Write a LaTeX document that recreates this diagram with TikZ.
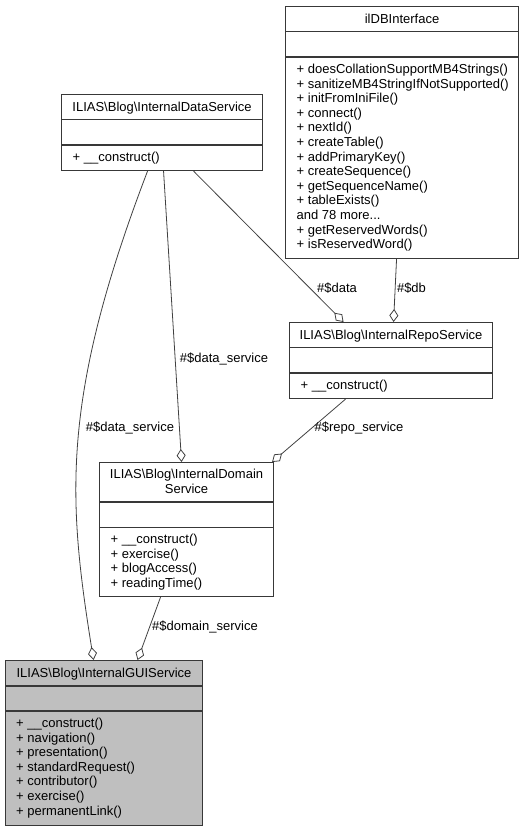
\documentclass[tikz,border=0pt]{standalone}
\usepackage{fontspec}
\setmainfont{Liberation Sans}
\usetikzlibrary{arrows.meta}

\definecolor{guifill}{HTML}{BFBFBF}

\begin{document}
\begin{tikzpicture}[x=1pt,y=-1pt,
    font=\fontsize{13}{14.6}\selectfont,
    classbox/.style={draw=black!78,line width=1.1pt,inner sep=0pt,anchor=north west},
    divider/.style={draw=black!78,line width=1.1pt},
    classname/.style={anchor=base,inner sep=0pt,align=center},
    members/.style={anchor=base west,inner sep=0pt,align=left},
    agg/.style={draw=black!75,line width=0.8pt,-{Diamond[open,length=13pt,width=9pt]}},
    role/.style={inner sep=0pt}]

\useasboundingbox (0,0) rectangle (531,831);

% ilDBInterface (text nodes sit on the baseline of their last line)
\node[classbox,minimum width=233pt,minimum height=252pt] (db) at (285,6) {};
\draw[divider] ([yshift=-25.5pt]db.north west) -- ([yshift=-25.5pt]db.north east);
\draw[divider] ([yshift=-51pt]db.north west) -- ([yshift=-51pt]db.north east);
\node[classname] (dbname) at ([yshift=-17.5pt]db.north) {ilDBInterface};
\node[members] (dbops) at ([xshift=11.5pt,yshift=-242.7pt]db.north west)
  {+ doesCollationSupportMB4Strings()\\
   + sanitizeMB4StringIfNotSupported()\\
   + initFromIniFile()\\
   + connect()\\
   + nextId()\\
   + createTable()\\
   + addPrimaryKey()\\
   + createSequence()\\
   + getSequenceName()\\
   + tableExists()\\
   and 78 more...\\
   + getReservedWords()\\
   + isReservedWord()};

% InternalDataService
\node[classbox,minimum width=201pt,minimum height=76pt] (data) at (61,94) {};
\draw[divider] ([yshift=-25.5pt]data.north west) -- ([yshift=-25.5pt]data.north east);
\draw[divider] ([yshift=-51pt]data.north west) -- ([yshift=-51pt]data.north east);
\node[classname] (dataname) at ([yshift=-17.5pt]data.north) {ILIAS\textbackslash Blog\textbackslash InternalDataService};
\node[members] (dataops) at ([xshift=11.5pt,yshift=-67.5pt]data.north west) {+ \_\_construct()};

% InternalRepoService
\node[classbox,minimum width=203pt,minimum height=76pt] (repo) at (289,322) {};
\draw[divider] ([yshift=-25.5pt]repo.north west) -- ([yshift=-25.5pt]repo.north east);
\draw[divider] ([yshift=-51pt]repo.north west) -- ([yshift=-51pt]repo.north east);
\node[classname] (reponame) at ([yshift=-17.5pt]repo.north) {ILIAS\textbackslash Blog\textbackslash InternalRepoService};
\node[members] (repoops) at ([xshift=11.5pt,yshift=-67.5pt]repo.north west) {+ \_\_construct()};

% InternalDomainService
\node[classbox,minimum width=174pt,minimum height=134pt] (domain) at (99,462) {};
\draw[divider] ([yshift=-40pt]domain.north west) -- ([yshift=-40pt]domain.north east);
\draw[divider] ([yshift=-65.5pt]domain.north west) -- ([yshift=-65.5pt]domain.north east);
\node[classname] (domainname) at ([yshift=-31.1pt]domain.north)
  {ILIAS\textbackslash Blog\textbackslash InternalDomain\\Service};
\node[members] (domainops) at ([xshift=11.5pt,yshift=-125.3pt]domain.north west)
  {+ \_\_construct()\\
   + exercise()\\
   + blogAccess()\\
   + readingTime()};

% InternalGUIService
\node[classbox,fill=guifill,minimum width=197pt,minimum height=165pt] (gui) at (5,660) {};
\draw[divider] ([yshift=-26pt]gui.north west) -- ([yshift=-26pt]gui.north east);
\draw[divider] ([yshift=-51pt]gui.north west) -- ([yshift=-51pt]gui.north east);
\node[classname] (guiname) at ([yshift=-17.5pt]gui.north) {ILIAS\textbackslash Blog\textbackslash InternalGUIService};
\node[members] (guiops) at ([xshift=11pt,yshift=-155.1pt]gui.north west)
  {+ \_\_construct()\\
   + navigation()\\
   + presentation()\\
   + standardRequest()\\
   + contributor()\\
   + exercise()\\
   + permanentLink()};

% Aggregations
\draw[agg] ([xshift=-14.5pt]data.south) .. controls (60,400) and (68,500) .. ([xshift=-10.5pt]gui.north);
\draw[agg] ([xshift=1.5pt]data.south) -- ([xshift=-5pt]domain.north);
\draw[agg] ([xshift=31.5pt]data.south) -- ([xshift=-47.5pt]repo.north);
\draw[agg] ([xshift=-5.5pt]db.south) -- ([xshift=2.5pt]repo.north);
\draw[agg] ([xshift=-45.5pt]repo.south) -- ([xshift=-2pt]domain.north east);
\draw[agg] ([xshift=-26pt]domain.south) -- ([xshift=33.5pt]gui.north);

% Roles
\node[role] (roledataleft) at (130,428) {\#\$data\_service};
\node[role] (roledatamid) at (224,359) {\#\$data\_service};
\node[role] (roledata) at (337,288) {\#\$data};
\node[role] (roledb) at (411.5,288) {\#\$db};
\node[role] (rolerepo) at (359,428) {\#\$repo\_service};
\node[role] (roledomain) at (205,627) {\#\$domain\_service};

\end{tikzpicture}
\end{document}
